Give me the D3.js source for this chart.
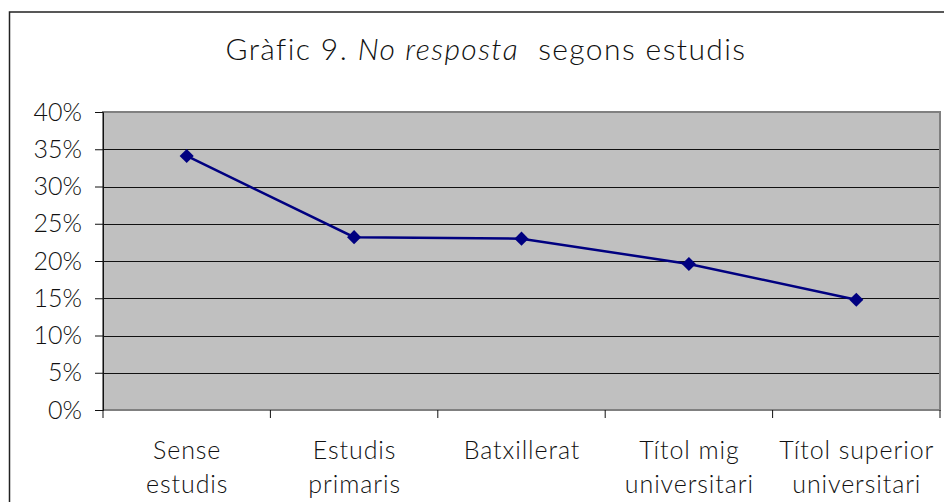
<!DOCTYPE html>
<html><head><meta charset="utf-8">
<script src="https://cdn.jsdelivr.net/npm/d3@7"></script>
<style>body{margin:0;background:#fff;}svg{display:block;font-family:Lato,"Noto Sans",sans-serif;font-weight:300;}</style>
</head><body>
<svg id="c" width="944" height="502"></svg>
<script>
const categories = [["Sense","estudis"],["Estudis","primaris"],["Batxillerat"],["Títol mig","universitari"],["Títol superior","universitari"]];
const values = [0.341, 0.232, 0.230, 0.196, 0.148];
const yTicks = [0,0.05,0.10,0.15,0.20,0.25,0.30,0.35,0.40];

const FONT = "Lato, 'Noto Sans', sans-serif";
const svg = d3.select("#c");
const L=103, R=940, T=112, B=410;
// outer frame
svg.append("rect").attr("x",9.5).attr("y",12).attr("width",960).attr("height",520)
  .attr("fill","none").attr("stroke","#222").attr("stroke-width",1.5);
// title
const title = svg.append("text").attr("x",486).attr("y",60).attr("text-anchor","middle")
  .attr("font-size",30).attr("fill","#111").attr("letter-spacing",1.4).style("white-space","pre");
title.append("tspan").text("Gràfic 9. ");
title.append("tspan").attr("font-style","italic").text("No resposta");
title.append("tspan").text("  segons estudis");

const x = d3.scaleBand().domain(d3.range(values.length)).range([L,R]).paddingInner(0).paddingOuter(0);
const y = d3.scaleLinear().domain([0,0.4]).range([B,T]);

svg.append("rect").attr("x",L).attr("y",T).attr("width",R-L).attr("height",B-T).attr("fill","#c0c0c0");
// gridlines
svg.append("g").selectAll("line").data(yTicks.filter(d=>d>0&&d<0.4)).join("line")
  .attr("x1",L).attr("x2",R).attr("y1",d=>Math.round(y(d))+0.5).attr("y2",d=>Math.round(y(d))+0.5)
  .attr("stroke","#111").attr("stroke-width",1);
// plot border
svg.append("rect").attr("x",L).attr("y",T).attr("width",R-L).attr("height",B-T)
  .attr("fill","none").attr("stroke","#808080").attr("stroke-width",2);

// y axis
const ya = svg.append("g").attr("transform",`translate(${L},0)`)
  .call(d3.axisLeft(y).tickValues(yTicks).tickFormat(d3.format(".0%")).tickSize(8).tickPadding(13));
ya.select(".domain").attr("stroke","#111");
ya.selectAll(".tick line").attr("stroke","#111");
ya.selectAll("text").attr("font-size",25).attr("fill","#111").attr("font-family",FONT).attr("font-weight",300);

// x axis
const xa = svg.append("g").attr("transform",`translate(0,${B})`)
  .call(d3.axisBottom(x).tickSize(0).tickFormat(""));
xa.select(".domain").remove();
xa.selectAll(".tick").remove();
const bounds = d3.range(values.length+1).map(i=> i<values.length ? x(i) : R);
xa.selectAll("line.t").data(bounds).join("line").attr("class","t")
  .attr("x1",d=>d).attr("x2",d=>d).attr("y1",0).attr("y2",8).attr("stroke","#111");
const labels = svg.append("g").selectAll("text").data(categories).join("text")
  .attr("x",(d,i)=>x(i)+x.bandwidth()/2+0.5).attr("y",459).attr("text-anchor","middle")
  .attr("font-size",25).attr("fill","#111").attr("letter-spacing",0.9);
labels.selectAll("tspan").data(d=>d).join("tspan")
  .attr("x",function(){return this.parentNode.getAttribute("x");})
  .attr("dy",(d,i)=>i===0?0:34).text(d=>d);

// line
const cx = i=> x(i)+x.bandwidth()/2;
svg.append("path").datum(values).attr("fill","none").attr("stroke","#000080").attr("stroke-width",2.5)
  .attr("d",d3.line().x((d,i)=>cx(i)).y(d=>y(d)));
svg.append("g").selectAll("path").data(values).join("path")
  .attr("d",d3.symbol(d3.symbolSquare,100))
  .attr("transform",(d,i)=>`translate(${cx(i)},${y(d)}) rotate(45)`)
  .attr("fill","#000080");
</script>
</body></html>
